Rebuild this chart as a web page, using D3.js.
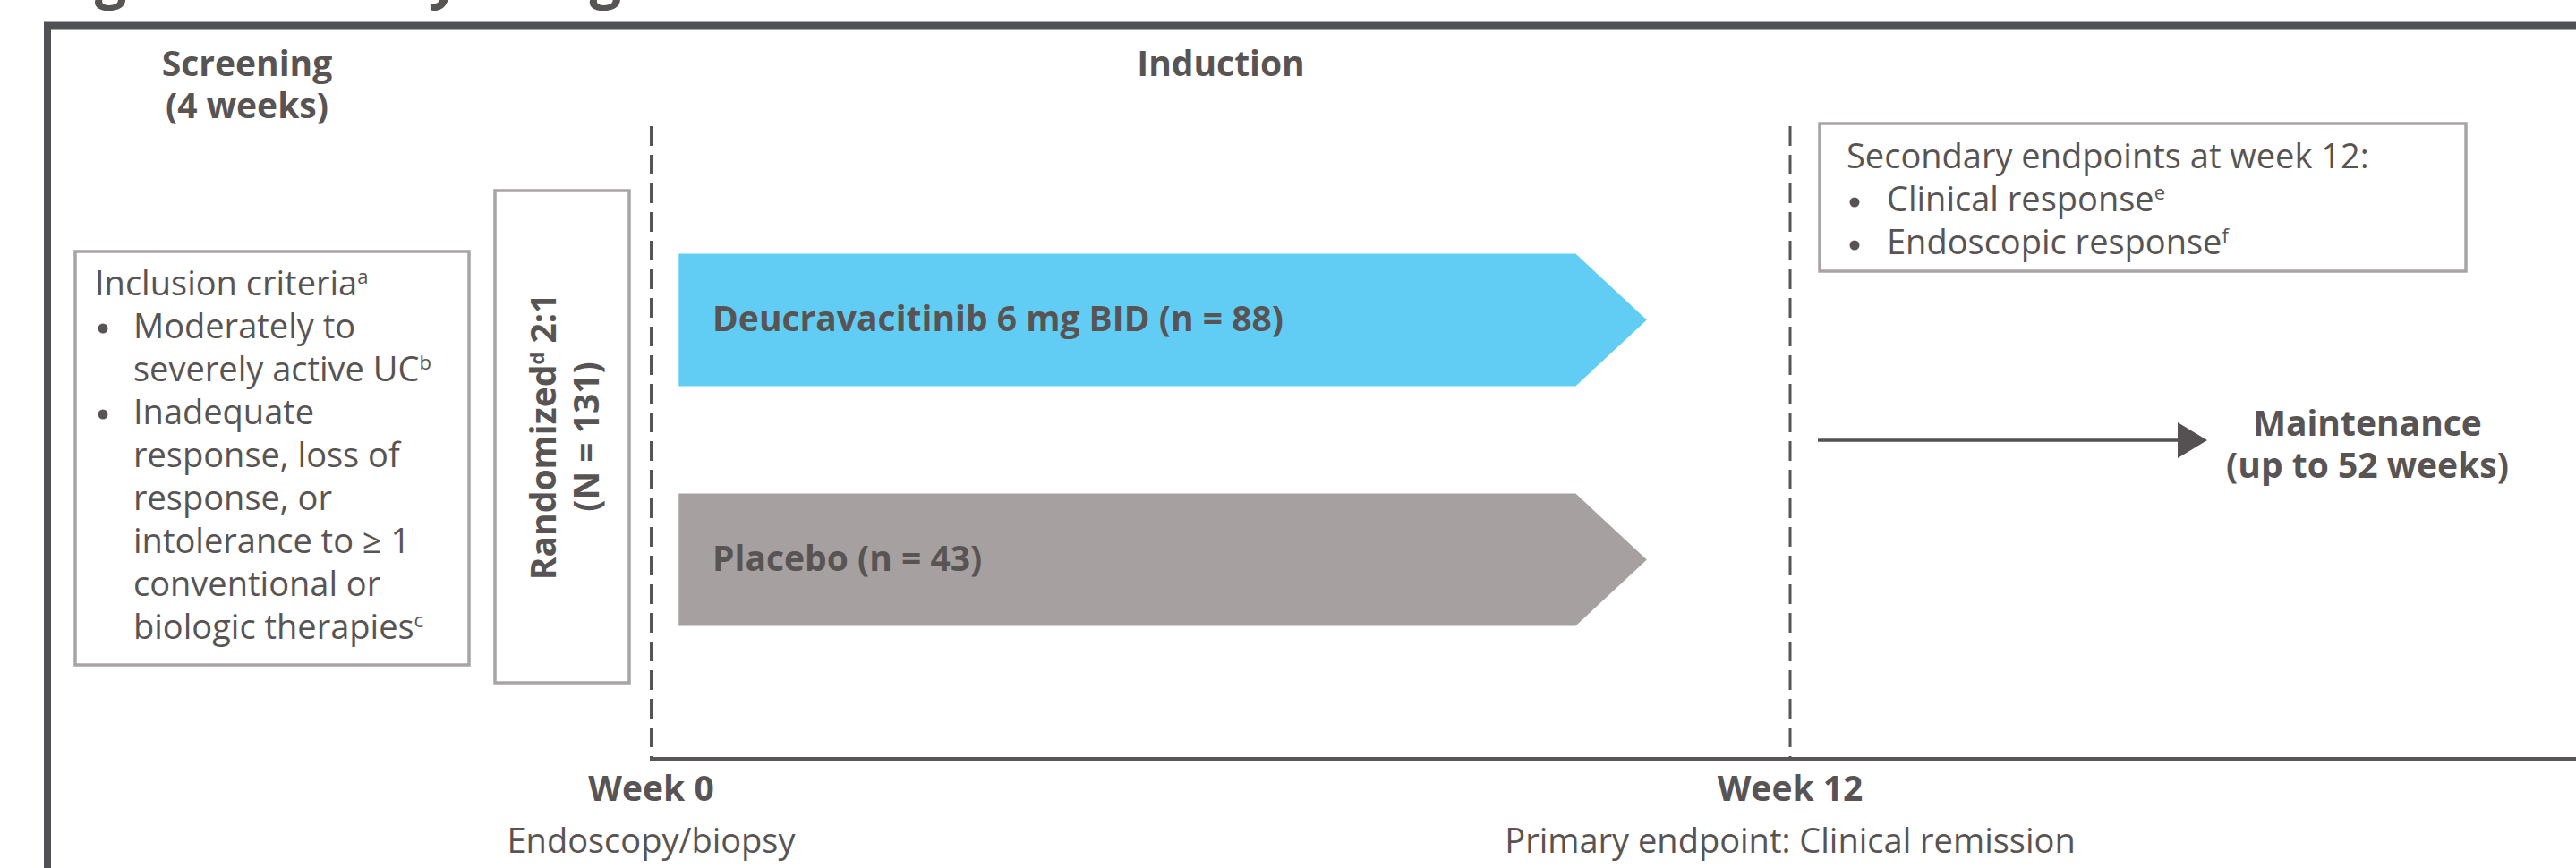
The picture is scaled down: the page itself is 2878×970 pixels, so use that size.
<!DOCTYPE html>
<html>
<head>
<meta charset="utf-8">
<script src="https://cdn.jsdelivr.net/npm/d3@7"></script>
<style>
  html, body { margin: 0; padding: 0; background: #ffffff; overflow: hidden; }
  svg { display: block; }
  text { font-family: "Open Sans", "Noto Sans", sans-serif; fill: #595454; }
</style>
</head>
<body>
<div id="chart"></div>
<script>
// ---- study design content ----
const title = "Figure 1. Study design";
const phaseNames = ["Screening", "Induction", "Maintenance"];
const phaseDurations = ["(4 weeks)", "", "(up to 52 weeks)"];
const weeks = [0, 12];
const weekLabels = ["Week 0", "Week 12"];
const weekAssessments = ["Endoscopy/biopsy", "Primary endpoint: Clinical remission"];
const arms = ["Deucravacitinib 6 mg BID", "Placebo"];
const armN = [88, 43];
const totalN = 131;
const allocation = "2:1";
const inclusionTitle = "Inclusion criteria^a";
const inclusionItems = [
  ["Moderately to", "severely active UC^b"],
  ["Inadequate", "response, loss of", "response, or", "intolerance to \u2265 1", "conventional or", "biologic therapies^c"]
];
const secondaryTitle = "Secondary endpoints at week 12:";
const secondaryItems = ["Clinical response^e", "Endoscopic response^f"];

// ---- layout ----
const W = 2878, H = 970;
const ink = "#595454";
const frameColor = "#505154";
const boxStroke = "#a9a4a4";
const armColors = ["#62cdf4", "#a6a0a0"];
const regular = 38, bold = 39, lineH = 48;
const supSize = 22, supRise = 13;
const bulletR = 5.5;

const svg = d3.select("#chart").append("svg")
  .attr("width", W).attr("height", H)
  .attr("viewBox", `0 0 ${W} ${H}`);

// week axis: time runs left to right
const x = d3.scaleLinear().domain([0, 12]).range([727.5, 2000]);
// arm rows
const y = d3.scalePoint().domain(arms).range([357.5, 625.5]);
const armHeight = 148;

// writes a label, turning "^x" into a superscript
function rich(textSel, str) {
  const parts = str.split(/(\^[a-z])/).filter(p => p.length);
  let raised = false;
  parts.forEach(p => {
    if (p[0] === "^") {
      textSel.append("tspan").attr("dy", -supRise).attr("font-size", supSize).text(p.slice(1));
      raised = true;
    } else {
      textSel.append("tspan").attr("dy", raised ? supRise : 0).text(p);
      raised = false;
    }
  });
  return textSel;
}

// title, mostly above the visible area
svg.append("text")
  .attr("x", 52).attr("y", -3)
  .attr("font-size", 63).attr("font-weight", 700)
  .text(title);

// outer frame (top and left edges)
svg.append("path")
  .attr("d", `M53,${H + 10} L53,28.5 L${W + 10},28.5`)
  .attr("fill", "none").attr("stroke", frameColor).attr("stroke-width", 8);

// timeline baseline
svg.append("line")
  .attr("x1", x(0) - 1.5).attr("x2", W + 10)
  .attr("y1", 848).attr("y2", 848)
  .attr("stroke", "#5a5657").attr("stroke-width", 4);

// dashed week markers
svg.selectAll("line.week").data(weeks).join("line")
  .attr("class", "week")
  .attr("x1", d => x(d)).attr("x2", d => x(d))
  .attr("y1", 141).attr("y2", 848)
  .attr("stroke", ink).attr("stroke-width", 3)
  .attr("stroke-dasharray", "22,10");

// week labels and assessments
svg.selectAll("text.wk").data(weeks).join("text")
  .attr("class", "wk")
  .attr("x", d => x(d)).attr("y", 895)
  .attr("text-anchor", "middle")
  .attr("font-size", bold).attr("font-weight", 700)
  .text((d, i) => weekLabels[i]);
svg.selectAll("text.assess").data(weeks).join("text")
  .attr("class", "assess")
  .attr("x", d => x(d)).attr("y", 953)
  .attr("text-anchor", "middle")
  .attr("font-size", regular)
  .text((d, i) => weekAssessments[i]);

// phase headings
const phaseX = [276, 1364, 2645];
const phaseY = [85, 85, 487];
phaseNames.forEach((name, i) => {
  svg.append("text")
    .attr("x", phaseX[i]).attr("y", phaseY[i])
    .attr("text-anchor", "middle")
    .attr("font-size", bold).attr("font-weight", 700)
    .text(name);
  if (phaseDurations[i]) {
    svg.append("text")
      .attr("x", phaseX[i]).attr("y", phaseY[i] + lineH - 1)
      .attr("text-anchor", "middle")
      .attr("font-size", bold).attr("font-weight", 700)
      .text(phaseDurations[i]);
  }
});

// inclusion criteria box
svg.append("rect")
  .attr("x", 84).attr("y", 281).attr("width", 440).attr("height", 462)
  .attr("fill", "none").attr("stroke", boxStroke).attr("stroke-width", 3.5);
rich(svg.append("text").attr("x", 106).attr("y", 330).attr("font-size", regular), inclusionTitle);
let row = 1;
inclusionItems.forEach(item => {
  svg.append("circle")
    .attr("cx", 115).attr("cy", 330 + row * lineH - 11)
    .attr("r", bulletR).attr("fill", ink);
  item.forEach(line => {
    rich(svg.append("text").attr("x", 149).attr("y", 330 + row * lineH).attr("font-size", regular), line);
    row++;
  });
});

// randomisation box with rotated label
svg.append("rect")
  .attr("x", 553).attr("y", 213).attr("width", 150).attr("height", 550)
  .attr("fill", "none").attr("stroke", boxStroke).attr("stroke-width", 3.5);
const rot = svg.append("g").attr("transform", "translate(0,488) rotate(-90)");
rich(rot.append("text").attr("x", 0).attr("y", 621)
  .attr("text-anchor", "middle").attr("font-size", bold).attr("font-weight", 700),
  `Randomized^d ${allocation}`);
rot.append("text").attr("x", 0).attr("y", 669)
  .attr("text-anchor", "middle").attr("font-size", bold).attr("font-weight", 700)
  .text(`(N = ${totalN})`);

// treatment arm arrows
const armStart = x(0.29), armBody = x(9.74), armTip = x(10.49);
svg.selectAll("path.arm").data(arms).join("path")
  .attr("class", "arm")
  .attr("d", d => {
    const c = y(d), h = armHeight / 2;
    return `M${armStart},${c - h} L${armBody},${c - h} L${armTip},${c} L${armBody},${c + h} L${armStart},${c + h} Z`;
  })
  .attr("fill", (d, i) => armColors[i]);
svg.selectAll("text.armlab").data(arms).join("text")
  .attr("class", "armlab")
  .attr("x", 796).attr("y", d => y(d) + 12.5)
  .attr("font-size", bold).attr("font-weight", 700)
  .text((d, i) => `${d} (n = ${armN[i]})`);

// secondary endpoints box
svg.append("rect")
  .attr("x", 2033).attr("y", 138).attr("width", 722).attr("height", 165)
  .attr("fill", "none").attr("stroke", boxStroke).attr("stroke-width", 3.5);
svg.append("text").attr("x", 2063).attr("y", 188).attr("font-size", regular).text(secondaryTitle);
secondaryItems.forEach((item, i) => {
  const by = 188 + (i + 1) * lineH;
  svg.append("circle").attr("cx", 2072).attr("cy", by - 10).attr("r", bulletR).attr("fill", ink);
  rich(svg.append("text").attr("x", 2108).attr("y", by).attr("font-size", regular), item);
});

// arrow into maintenance
const arrowY = 492;
svg.append("line")
  .attr("x1", 2031).attr("x2", 2436).attr("y1", arrowY).attr("y2", arrowY)
  .attr("stroke", "#555051").attr("stroke-width", 3.5);
svg.append("path")
  .attr("d", `M2433,${arrowY - 20} L2466,${arrowY} L2433,${arrowY + 20} Z`)
  .attr("fill", "#555051");
</script>
</body>
</html>
